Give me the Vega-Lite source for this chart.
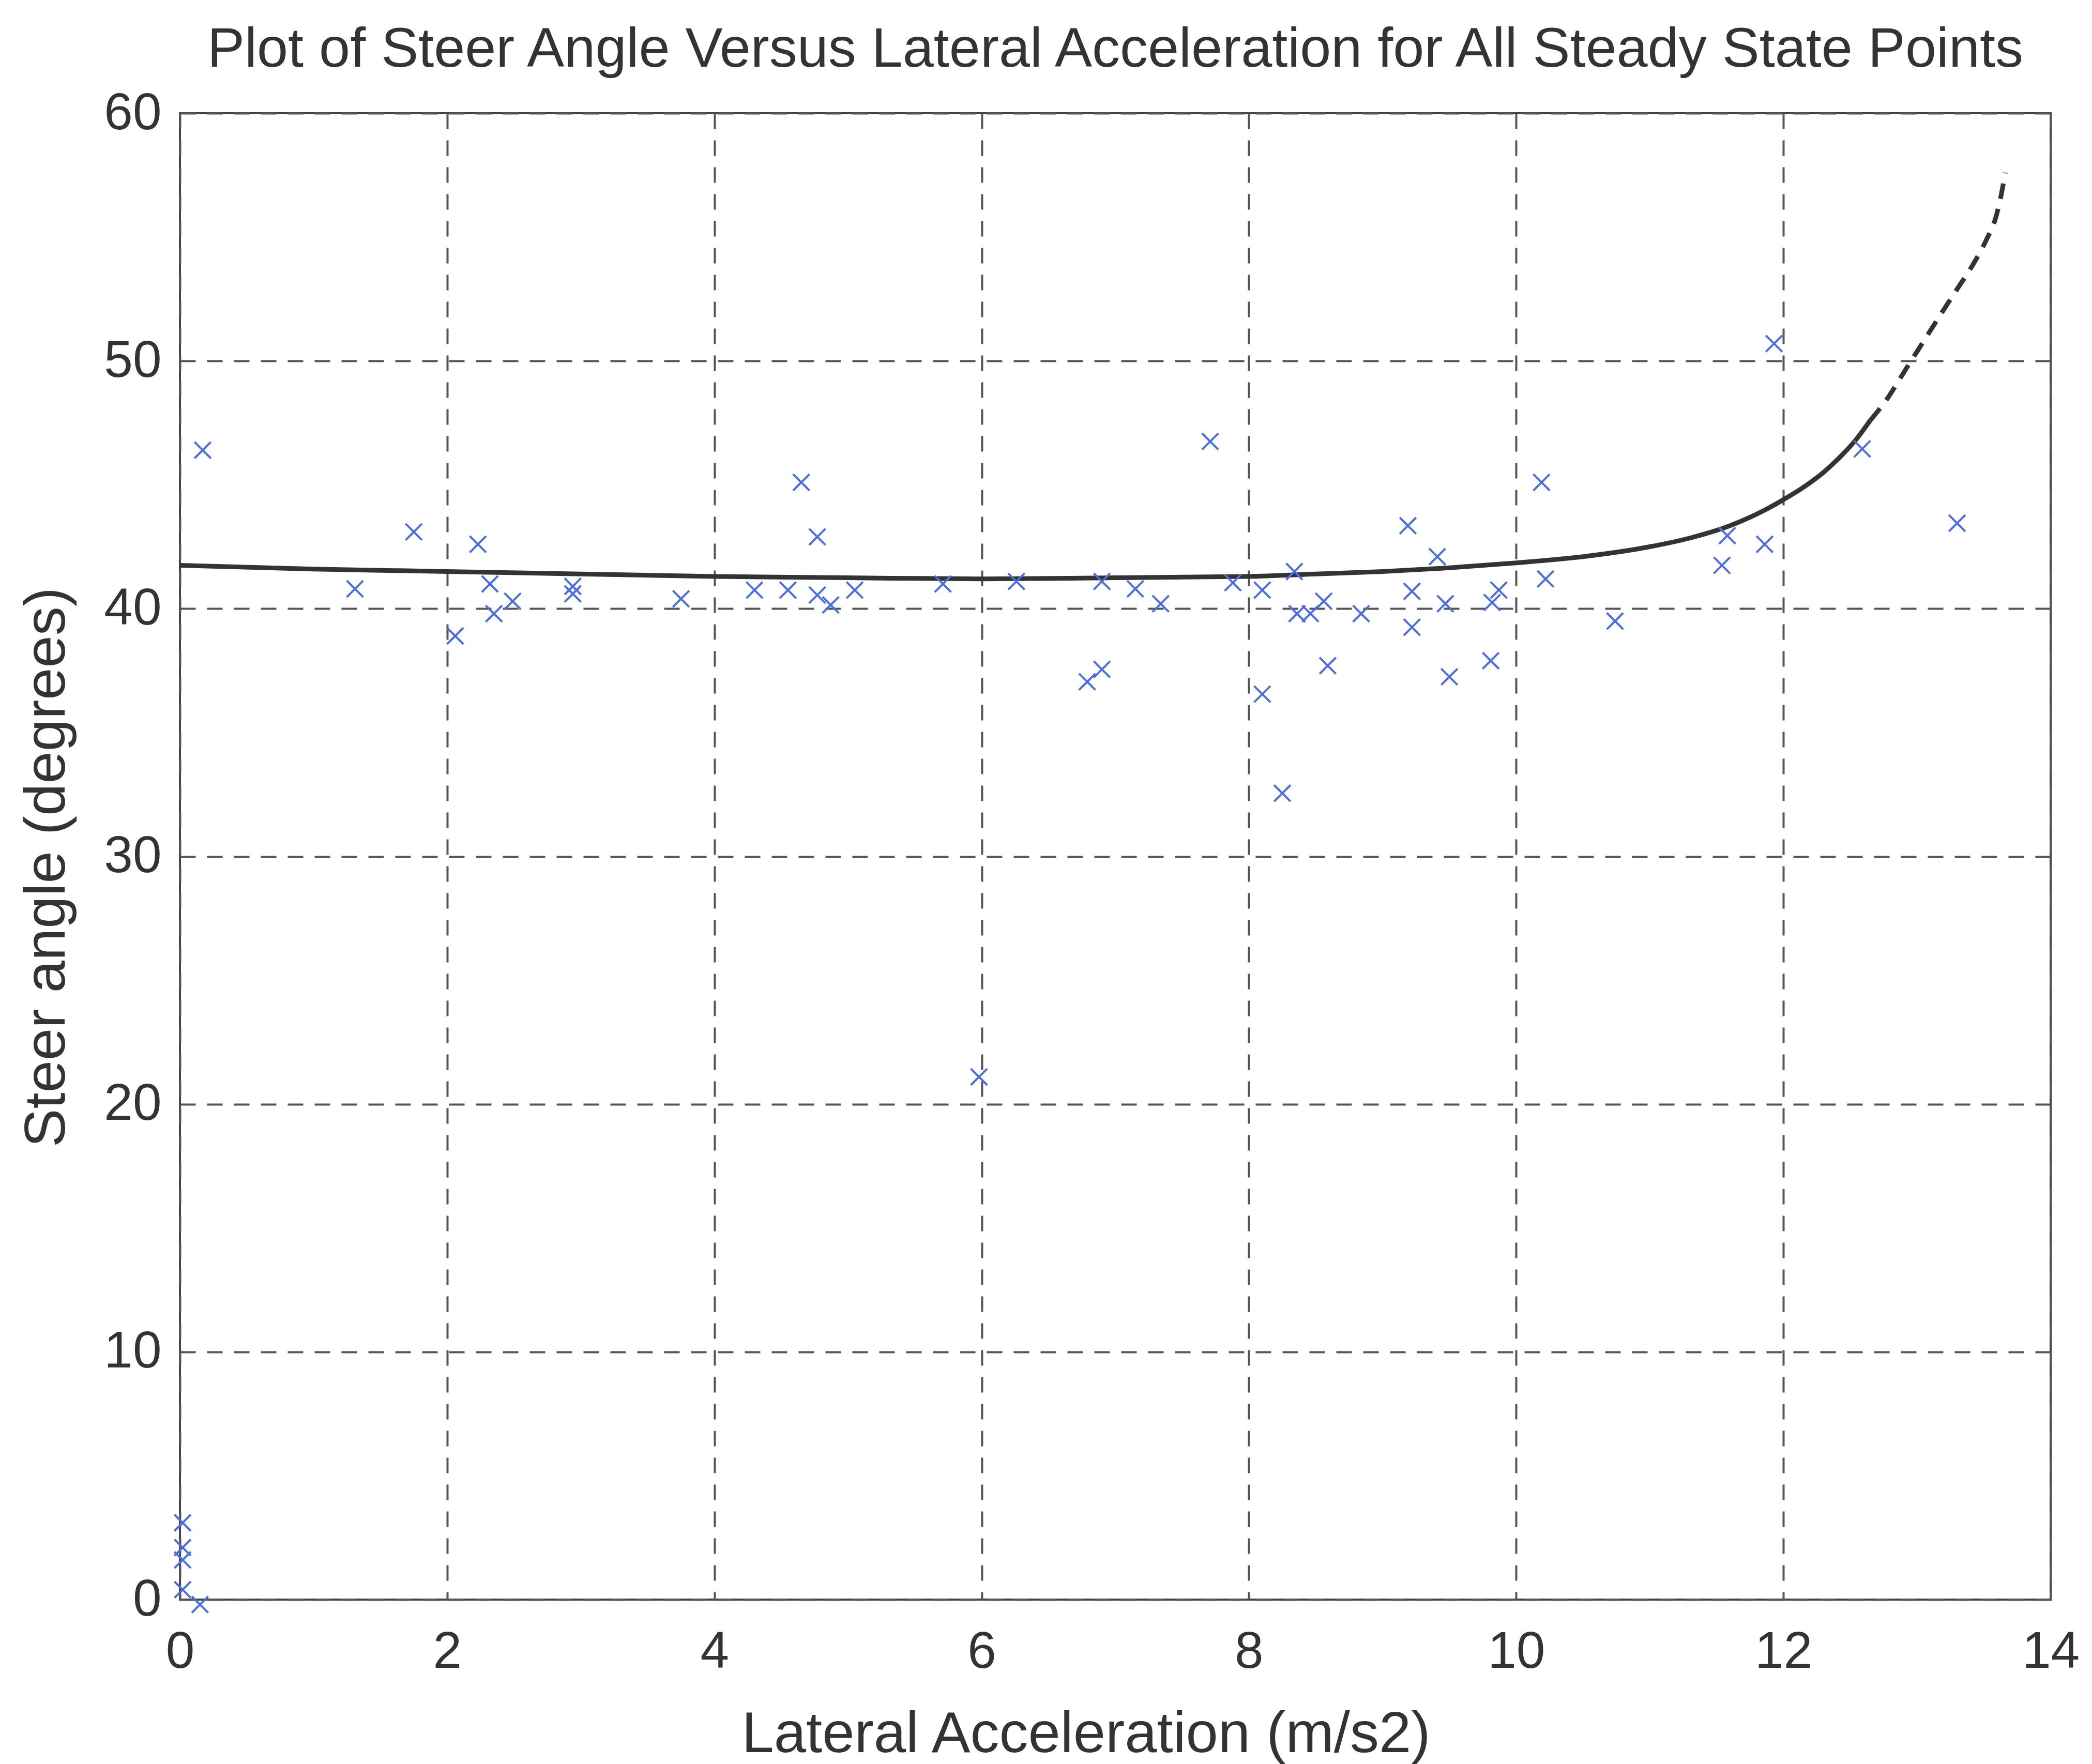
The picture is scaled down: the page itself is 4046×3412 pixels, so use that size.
{
  "$schema": "https://vega.github.io/schema/vega-lite/v6.json",
  "width": 3618,
  "height": 2875,
  "autosize": {"type": "none"},
  "padding": {"left": 348, "top": 219, "right": 80, "bottom": 318},
  "background": "white",
  "title": {
    "text": "Plot of Steer Angle Versus Lateral Acceleration for All Steady State Points",
    "font": "Liberation Sans",
    "fontSize": 108,
    "fontWeight": "normal",
    "color": "#333333",
    "anchor": "middle",
    "frame": "group",
    "baseline": "alphabetic",
    "offset": -68
  },
  "config": {
    "view": {"stroke": "#444444", "strokeWidth": 4},
    "axis": {
      "grid": true,
      "gridDash": [30, 22],
      "gridColor": "#555555",
      "gridWidth": 4,
      "domain": false,
      "ticks": false,
      "tickSize": 0,
      "labelFlush": false,
      "labelFont": "Liberation Sans",
      "labelFontSize": 100,
      "labelColor": "#333333",
      "titleFont": "Liberation Sans",
      "titleFontSize": 112,
      "titleFontWeight": "normal",
      "titleColor": "#333333"
    }
  },
  "datasets": {
    "points": [
      {"x": 0.02, "y": 3.1}, {"x": 0.02, "y": 2.1}, {"x": 0.02, "y": 1.6}, {"x": 0.02, "y": 0.4}, {"x": 0.15, "y": -0.2},
      {"x": 0.17, "y": 46.4}, {"x": 1.31, "y": 40.8}, {"x": 1.75, "y": 43.1}, {"x": 2.06, "y": 38.9},
      {"x": 2.23, "y": 42.6}, {"x": 2.32, "y": 41.0}, {"x": 2.35, "y": 39.8}, {"x": 2.49, "y": 40.3},
      {"x": 2.94, "y": 40.9}, {"x": 2.94, "y": 40.6}, {"x": 3.75, "y": 40.4}, {"x": 4.3, "y": 40.75},
      {"x": 4.55, "y": 40.75}, {"x": 4.65, "y": 45.1}, {"x": 4.77, "y": 42.9}, {"x": 4.77, "y": 40.55},
      {"x": 4.87, "y": 40.15}, {"x": 5.05, "y": 40.75}, {"x": 5.71, "y": 41.0}, {"x": 5.98, "y": 21.1},
      {"x": 6.26, "y": 41.1}, {"x": 6.79, "y": 37.05}, {"x": 6.9, "y": 37.55}, {"x": 6.9, "y": 41.1},
      {"x": 7.15, "y": 40.8}, {"x": 7.34, "y": 40.2}, {"x": 7.71, "y": 46.75}, {"x": 7.88, "y": 41.05},
      {"x": 8.1, "y": 40.75}, {"x": 8.1, "y": 36.55}, {"x": 8.25, "y": 32.55}, {"x": 8.34, "y": 41.5},
      {"x": 8.36, "y": 39.8}, {"x": 8.46, "y": 39.8}, {"x": 8.56, "y": 40.3}, {"x": 8.59, "y": 37.7},
      {"x": 8.84, "y": 39.8}, {"x": 9.19, "y": 43.35}, {"x": 9.22, "y": 40.7}, {"x": 9.22, "y": 39.25},
      {"x": 9.41, "y": 42.1}, {"x": 9.47, "y": 40.2}, {"x": 9.5, "y": 37.25}, {"x": 9.81, "y": 37.9},
      {"x": 9.82, "y": 40.25}, {"x": 9.87, "y": 40.75}, {"x": 10.19, "y": 45.1}, {"x": 10.22, "y": 41.2},
      {"x": 10.74, "y": 39.5}, {"x": 11.54, "y": 41.75}, {"x": 11.58, "y": 42.95}, {"x": 11.86, "y": 42.6},
      {"x": 11.93, "y": 50.7}, {"x": 12.59, "y": 46.45}, {"x": 13.3, "y": 43.45}
    ],
    "fit": [
      {"x": 0, "y": 41.75}, {"x": 1, "y": 41.6}, {"x": 2, "y": 41.5}, {"x": 3, "y": 41.4},
      {"x": 4, "y": 41.3}, {"x": 5, "y": 41.25}, {"x": 6, "y": 41.2}, {"x": 7, "y": 41.25},
      {"x": 8, "y": 41.3}, {"x": 8.5, "y": 41.4}, {"x": 9, "y": 41.5}, {"x": 9.5, "y": 41.65},
      {"x": 10, "y": 41.85}, {"x": 10.5, "y": 42.1}, {"x": 11, "y": 42.5}, {"x": 11.3, "y": 42.85},
      {"x": 11.6, "y": 43.35}, {"x": 11.85, "y": 43.95}, {"x": 12, "y": 44.4}, {"x": 12.15, "y": 44.9},
      {"x": 12.3, "y": 45.5}, {"x": 12.42, "y": 46.1}, {"x": 12.54, "y": 46.8}, {"x": 12.65, "y": 47.6}
    ],
    "extrap": [
      {"x": 12.65, "y": 47.6}, {"x": 12.78, "y": 48.5}, {"x": 12.92, "y": 49.7}, {"x": 13.05, "y": 50.8},
      {"x": 13.18, "y": 51.9}, {"x": 13.3, "y": 52.9}, {"x": 13.42, "y": 53.9}, {"x": 13.52, "y": 54.9},
      {"x": 13.59, "y": 55.8}, {"x": 13.63, "y": 56.7}, {"x": 13.66, "y": 57.6}
    ]
  },
  "encoding": {
    "x": {
      "field": "x",
      "type": "quantitative",
      "scale": {"domain": [0, 14], "nice": false, "zero": false},
      "axis": {
        "title": "Lateral Acceleration (m/s2)",
        "values": [0, 2, 4, 6, 8, 10, 12, 14],
        "labelPadding": 52,
        "titleX": 1752,
        "titleY": 294,
        "titleBaseline": "alphabetic"
      }
    },
    "y": {
      "field": "y",
      "type": "quantitative",
      "scale": {"domain": [0, 60], "nice": false, "zero": false},
      "axis": {
        "title": "Steer angle (degrees)",
        "values": [0, 10, 20, 30, 40, 50, 60],
        "labelPadding": 36,
        "titleX": -224,
        "titleY": 1458,
        "titleBaseline": "alphabetic"
      }
    }
  },
  "layer": [
    {
      "data": {"name": "fit"},
      "mark": {"type": "line", "color": "#333333", "strokeWidth": 9, "interpolate": "monotone"}
    },
    {
      "data": {"name": "extrap"},
      "mark": {"type": "line", "color": "#333333", "strokeWidth": 9, "strokeDash": [30, 20], "interpolate": "monotone"}
    },
    {
      "data": {"name": "points"},
      "mark": {
        "type": "point",
        "shape": "M-1,-1L1,1M-1,1L1,-1",
        "filled": false,
        "color": "#4a6ee0",
        "opacity": 1,
        "strokeWidth": 4,
        "size": 1000,
        "clip": false
      }
    }
  ]
}
